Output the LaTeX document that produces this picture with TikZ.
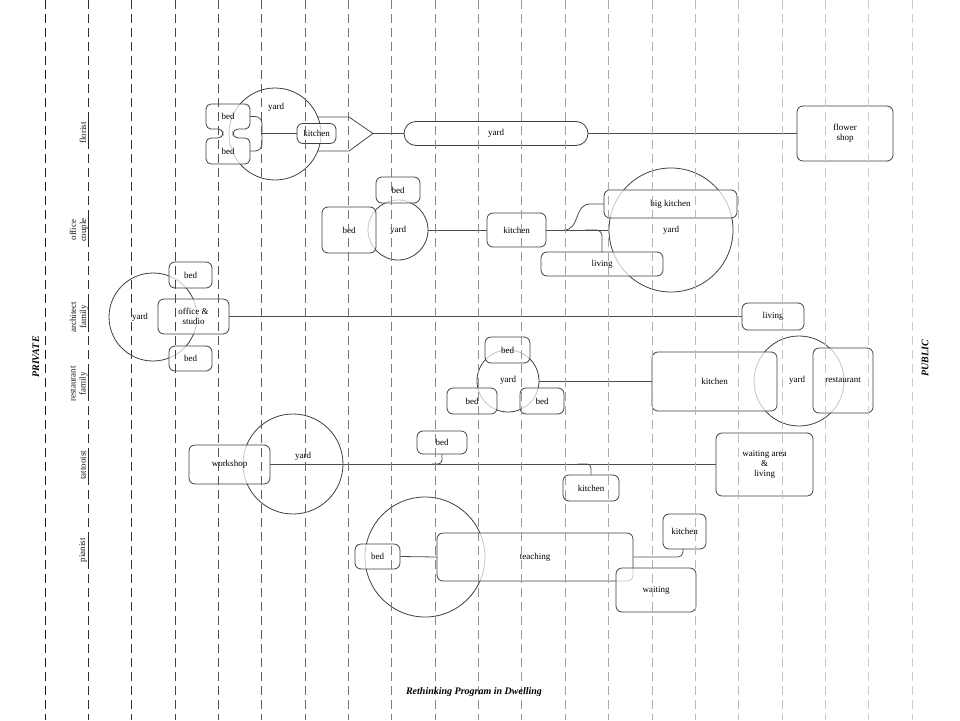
\documentclass[tikz,border=0pt]{standalone}
\usepackage{fontspec}
\setmainfont{Liberation Serif}
\newcommand\mkbox[6]{\node[rbox, minimum width=#4, minimum height=#5] (#1) at (#2,#3) {#6};}
\newcommand\mkring[4]{\node[ring, minimum size=#4] (#1) at (#2,#3) {};}
\begin{document}
\begin{tikzpicture}[x=1pt,y=-1pt,
  font=\fontsize{9}{10}\selectfont,
  rbox/.style={draw=black!75, line width=0.8pt, rounded corners=6pt, fill=white, fill opacity=0.7, text opacity=1, inner sep=0pt, align=center},
  ring/.style={draw=black!75, line width=0.8pt, circle, inner sep=0pt},
  conn/.style={draw=black!70, line width=0.8pt},
  lbl/.style={inner sep=0pt, align=center, text=black!90},
  side/.style={inner sep=0pt, font=\fontsize{10}{12}\selectfont\bfseries\itshape},
  txt/.style={inner sep=0pt},
  gridl/.style={line width=0.75pt, dash pattern=on 9pt off 5pt},
]
\fill[white] (0,0) rectangle (960,720);
\useasboundingbox (0,0) rectangle (960,720);

\coordinate (fj) at (262,133.5);
\coordinate (ftip) at (373,133.5);

% ---------------- circles ----------------
\mkring{yardF}{275}{134}{92}
\mkring{yardO}{398}{230}{60}
\mkring{yardO2}{671}{230}{124}
\mkring{yardA}{153}{317}{88}
\mkring{yardR}{508}{381}{62}
\mkring{yardR2}{799}{381}{90}
\mkring{yardT}{293}{464}{100}
\mkring{yardPi}{425}{557}{120}

% ---------------- florist ----------------
\node[txt, minimum width=44, minimum height=25] (bedF1) at (228,116.5) {};
\node[txt, minimum width=44, minimum height=25] (bedF2) at (228,151) {};
\draw[conn, rounded corners=7pt] (bedF1.east) -| (fj);
\draw[conn, rounded corners=7pt] (bedF2.east) -| (fj);
\draw[conn] (fj) -- (297,133.5);
\draw[conn] (317,117) -- (349,117) -- (ftip) -- (349,151) -- (317,151);
\draw[conn] (ftip) -- (404,133.5);
\draw[draw=black!75, line width=0.8pt, rounded corners=5pt, fill=white, fill opacity=0.7]
  (206,104) -- (250,104) -- (250,129) -- (233,129) -- (233,138) -- (250,138) -- (250,164)
  -- (206,164) -- (206,138) -- (223,138) -- (223,129) -- (206,129) -- cycle;
\node[txt] at (bedF1) {bed};
\node[txt] at (bedF2) {bed};
\node[txt] at (276,107) {yard};
\mkbox{kitchenF}{316.5}{133.5}{39}{20}{kitchen}
\node[rbox, rounded corners=12pt, minimum width=184, minimum height=24] (yardP) at (496,133.5) {yard};
\mkbox{shop}{845}{133.5}{96}{55}{flower\\shop}
\draw[conn] (yardP.east) -- (shop.west);

% ---------------- office couple ----------------
\mkbox{bedO1}{349}{230}{54}{46}{bed}
\mkbox{bedO2}{398}{190}{44}{26}{bed}
\node[txt] at (yardO) {yard};
\mkbox{kitchenO}{516.5}{230}{59}{34}{kitchen}
\draw[conn] (yardO.east) -- (kitchenO.west);
\draw[conn] (kitchenO.east) -- (yardO2.west);
\draw[conn] (564,230) .. controls (580,230) and (574,204) .. (590,204) -- (604,204);
\draw[conn, rounded corners=6pt] (585,230) -| (602,252);
\mkbox{bigkitchen}{670.5}{204}{133}{28}{big kitchen}
\mkbox{livingO}{602}{264}{122}{24}{living}
\node[txt] at (yardO2) {yard};

% ---------------- architect family ----------------
\node[txt] at (140,317) {yard};
\mkbox{bedA1}{190.5}{275}{43}{26}{bed}
\mkbox{office}{193.5}{316.5}{71}{35}{office \&\\studio}
\mkbox{bedA2}{190.5}{358.5}{43}{25}{bed}
\mkbox{livingA}{773}{316.5}{62}{27}{living}
\draw[conn] (office.east) -- (livingA.west);

% ---------------- restaurant family ----------------
\draw[conn] (yardR.east) -- (652,381);
\mkbox{bedR1}{507.5}{350}{45}{26}{bed}
\mkbox{bedR2}{472}{401}{50}{26}{bed}
\mkbox{bedR3}{542}{401}{44}{26}{bed}
\node[txt] at (508,380) {yard};
\mkbox{kitchenR}{714.5}{381.5}{125}{59}{kitchen}
\mkbox{restaurant}{843}{380.5}{60}{65}{restaurant}
\node[txt] at (797,380.5) {yard};

% ---------------- tattooist ----------------
\mkbox{workshop}{229.5}{464.5}{81}{39}{workshop}
\mkbox{waitingT}{764.5}{464.5}{97}{63}{waiting area\\\&\\living}
\draw[conn] (workshop.east) -- (waitingT.west);
\mkbox{bedT}{442}{442.5}{50}{23}{bed}
\mkbox{kitchenT}{591}{488}{56}{26}{kitchen}
\draw[conn, rounded corners=4pt] (bedT.south) |- (432,464);
\draw[conn, rounded corners=4pt] (578,464) -| (kitchenT.north);
\node[txt] at (303,456) {yard};

% ---------------- pianist ----------------
\mkbox{bedPi}{377.5}{556.5}{45}{25}{bed}
\mkbox{teaching}{535}{557}{196}{48}{teaching}
\draw[conn] (bedPi.east) -- (teaching.west);
\mkbox{kitchenPi}{684.5}{531.5}{43}{35}{kitchen}
\draw[conn, rounded corners=5pt] (teaching.east) -| (683,549);
\mkbox{waitingPi}{656}{590}{80}{44}{waiting}

% ---------------- grid ----------------
\foreach \i in {0,...,20} {
  \pgfmathsetmacro\xx{45+43.35*\i}
  \pgfmathtruncatemacro\sh{20+68*(1-\i/20)^1.5}
  \draw[gridl, draw=black!\sh] (\xx,0) -- (\xx,720);
}

% ---------------- labels ----------------
\node[lbl, rotate=90] (lflorist) at (83,133) {florist};
\node[lbl, rotate=90] (loffice) at (79,230) {office\\couple};
\node[lbl, rotate=90] (larch) at (79,317) {architect\\family};
\node[lbl, rotate=90] (lrest) at (79,384) {restaurant\\family};
\node[lbl, rotate=90] (ltat) at (83,465) {tattooist};
\node[lbl, rotate=90] (lpia) at (83,550) {pianist};
\foreach \a/\b in {118/149, 216/245, 302/332, 370/398, 448/481, 536/564}
  \draw[black!85, line width=0.8pt] (88,\a) -- (88,\b);

\node[side, rotate=90] (private) at (36,357) {PRIVATE};
\node[side, rotate=90] (public) at (925,358) {PUBLIC};
\node[side] (title) at (474,692) {Rethinking Program in Dwelling};
\end{tikzpicture}
\end{document}
